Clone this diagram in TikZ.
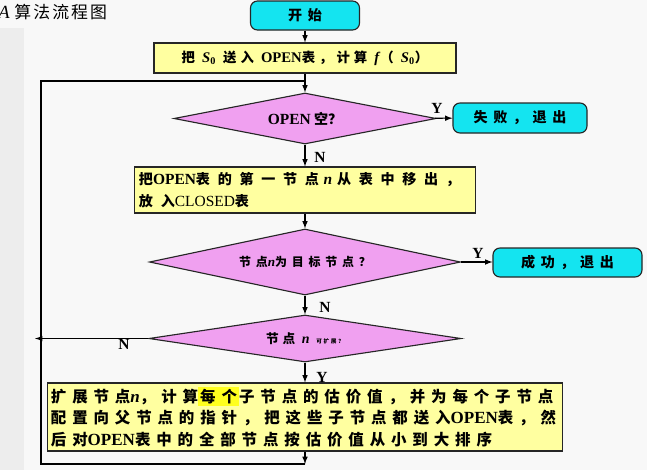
\documentclass[tikz,border=0pt]{standalone}
\usepackage{fontspec}
\setmainfont{Liberation Serif}[Scale=1.1]
\newfontfamily\cjk{Noto Sans CJK SC}
\usepackage{tikz}
\usetikzlibrary{shapes.geometric}
\usetikzlibrary{arrows}
\definecolor{pagebg}{RGB}{248,248,248}
\definecolor{termcyan}{RGB}{20,228,240}
\definecolor{procyellow}{RGB}{255,255,160}
\definecolor{testviolet}{RGB}{240,160,240}
\definecolor{marker}{RGB}{255,255,30}
\newcommand{\en}[1]{{\rmfamily #1}}
\newcommand{\vn}{{\rmfamily\bfseries\itshape n}}
\newcommand{\Sz}{\en{\textit{S}\textsubscript{0}}}
\newcommand{\hl}[1]{{\setlength{\fboxsep}{1.5pt}\colorbox{marker}{#1}}}

\begin{document}
\begin{tikzpicture}[x=0.025cm,y=-0.025cm,>=latex,
		term/.style={draw=black!85,fill=termcyan,rounded corners=5pt,line width=0.8pt,inner sep=0pt,
			font=\cjk\bfseries\addfontfeature{LetterSpace=40}},
		proc/.style={draw=black!85,fill=procyellow,line width=0.8pt,inner sep=0pt},
		test/.style={diamond,draw=black!85,fill=testviolet,line width=0.8pt,inner sep=0pt},
		flow/.style={->,line width=0.8pt},
		yn/.style={font=\bfseries}]
		\fill[pagebg] (0,0) rectangle (647,470);
		\fill[black!7] (0,28) rectangle (24,470);
		\useasboundingbox (0,0) rectangle (647,470);
		\node[anchor=west,font=\fontsize{12}{14}\selectfont] (title) at (-7,12)
			{\textit{A} {\cjk\addfontfeature{LetterSpace=12}算法流程图}};

		% start, boxes and tests down the middle
		\node[term,minimum width=2.725cm,minimum height=0.725cm] (start) at (305,15.5) {开始};
		\node[proc,minimum width=7.55cm,minimum height=0.75cm,
			font=\cjk\bfseries\fontsize{9.5}{11}\selectfont\addfontfeature{LetterSpace=30}] (init) at (305,58)
			{把 \Sz\ 送入 \en{OPEN}表，计算 \en{\textit{f}}（ \Sz）};
		\node[test,minimum width=6.55cm,minimum height=1.275cm,aspect=5,
			font=\cjk\bfseries\fontsize{10}{12}\selectfont] (empty) at (305,118.5)
			{\en{OPEN} 空？\hspace{1.2cm}};
		\node[proc,minimum width=8.525cm,minimum height=1.15cm,text width=8.3cm,align=left,
			font=\cjk\bfseries\fontsize{10}{15.5}\selectfont\addfontfeature{LetterSpace=55}] (move) at (305,190)
			{把\en{OPEN}表的第一节点 \vn\ 从表中移出，\\放入\en{\mdseries CLOSED}表};
		\node[test,minimum width=7.775cm,minimum height=1.65cm,aspect=5,
			font=\cjk\bfseries\fontsize{8.5}{10}\selectfont\addfontfeature{LetterSpace=40}] (goal) at (305,262)
			{节点\vn 为目标节点？\hspace{0.65cm}};
		\node[test,minimum width=7.8cm,minimum height=1.175cm,aspect=6,
			font=\cjk\bfseries\fontsize{9}{10}\selectfont\addfontfeature{LetterSpace=30}] (expandable) at (305,338.5)
			{节点 \vn\ {\fontsize{4}{4}\selectfont 可扩展？}\hspace{1.6cm}};
		\node[proc,minimum width=12.875cm,minimum height=1.7cm,text width=12.7cm,align=left,
			font=\cjk\bfseries\fontsize{11}{15}\selectfont\addfontfeature{LetterSpace=38}] (expand) at (305,417)
			{扩展节点\vn，计算\hl{每个}子节点的估价值，并为每个子节点\\
			配置向父节点的指针，把这些子节点都送入\en{OPEN}表，然\\
			后对\en{OPEN}表中的全部节点按估价值从小到大排序};

		% exits on the right
		\node[term,minimum width=3.35cm,minimum height=0.75cm] (fail) at (520,118) {失败，退出};
		\node[term,minimum width=3.725cm,minimum height=0.725cm] (succ) at (567.5,262.5) {成功，退出};

		\coordinate (top) at (305,81);
		\coordinate (topleft) at (41,81);
		\coordinate (botleft) at (41,464);
		\coordinate (bottom) at (305,464);
		\coordinate (leftn) at (35,338.5);

		\draw[flow] (start) -- (init);
		\draw[flow] (init) -- (empty);
		\draw[flow] (empty) -- (fail);
		\draw[flow] (empty) -- (move);
		\draw[flow] (move) -- (goal);
		\draw[flow] (goal.east) -- (succ.west |- goal.east);
		\draw[flow] (goal) -- (expandable);
		\draw[flow] (expandable) -- (expand);
		\draw[flow] (expandable.west) -- (leftn);
		\draw[flow] (expand) -- (bottom);
		\draw[line width=0.8pt] (bottom) -- (botleft) -- (topleft) -- (top);

		\node[yn] (yfail) at (437,108) {Y};
		\node[yn] (nmove) at (320,157) {N};
		\node[yn] (ysucc) at (478,253) {Y};
		\node[yn] (nnext) at (325,307) {N};
		\node[yn] (nloop) at (124,344) {N};
		\node[yn] (yexp) at (322,377) {Y};
	\end{tikzpicture}
\end{document}
